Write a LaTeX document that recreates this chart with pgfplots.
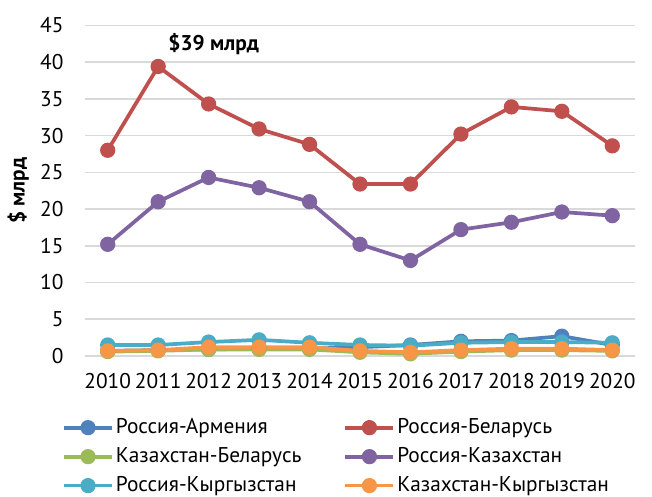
\documentclass[border=0pt]{standalone}
\usepackage{fontspec}
\setmainfont{PT Sans}
\usepackage{pgfplots}
\pgfplotsset{compat=1.18}

\definecolor{cArm}{HTML}{4F81BD}
\definecolor{cBel}{HTML}{C0504D}
\definecolor{cKzBy}{HTML}{9BBB59}
\definecolor{cKz}{HTML}{8064A2}
\definecolor{cKg}{HTML}{4BACC6}
\definecolor{cKzKg}{HTML}{F79646}
\definecolor{gridc}{HTML}{D9D9D9}

\begin{document}
\fontsize{16}{19}\selectfont
\begin{tikzpicture}
\begin{axis}[
    scale only axis,
    width=412.5pt,
    height=248pt,
    xmin=2009.55, xmax=2020.45,
    ymin=0, ymax=45,
    xtick={2010,2011,2012,2013,2014,2015,2016,2017,2018,2019,2020},
    ytick={0,5,10,15,20,25,30,35,40,45},
    /pgf/number format/assume math mode=true,
    /pgf/number format/1000 sep={},
    axis line style={draw=none},
    major tick length=0pt,
    ymajorgrids=true,
    grid style={gridc, line width=1.2pt},
    xticklabel style={inner sep=0pt, yshift=-13pt},
    yticklabel style={inner sep=0pt, xshift=-16pt},
    ylabel={\bfseries\$ млрд},
    every axis y label/.style={at={(axis description cs:0,0.5)}, xshift=-50pt, rotate=90, anchor=center},
    clip=false,
    every axis plot/.append style={line width=2.8pt, mark=*, mark size=4.3pt},
    legend image code/.code={\draw[mark repeat=2, mark phase=2] plot coordinates {(0pt,0pt) (18pt,0pt) (36pt,0pt)};},
    legend style={draw=none, fill=none, at={(axis description cs:-0.042,-0.182)}, anchor=north west,
        legend columns=2, row sep=5pt, inner sep=0pt,
        nodes={inner sep=1.5pt},
        /tikz/every even column/.append style={column sep=30pt}},
    legend cell align=left,
]
\addplot[color=cArm] coordinates {
    (2010,0.7) (2011,0.8) (2012,0.9) (2013,1.0) (2014,1.0) (2015,1.2)
    (2016,1.5) (2017,2.0) (2018,2.1) (2019,2.7) (2020,1.5)
};
\addplot[color=cBel] coordinates {
    (2010,28.0) (2011,39.4) (2012,34.3) (2013,30.9) (2014,28.8) (2015,23.4)
    (2016,23.4) (2017,30.2) (2018,33.9) (2019,33.3) (2020,28.6)
};
\addplot[color=cKzBy] coordinates {
    (2010,0.6) (2011,0.7) (2012,0.9) (2013,0.9) (2014,0.9) (2015,0.5)
    (2016,0.3) (2017,0.6) (2018,0.8) (2019,0.8) (2020,0.7)
};
\addplot[color=cKz] coordinates {
    (2010,15.2) (2011,21.0) (2012,24.3) (2013,22.9) (2014,21.0) (2015,15.2)
    (2016,13.0) (2017,17.2) (2018,18.2) (2019,19.6) (2020,19.1)
};
\addplot[color=cKg] coordinates {
    (2010,1.5) (2011,1.5) (2012,1.9) (2013,2.2) (2014,1.8) (2015,1.5)
    (2016,1.4) (2017,1.8) (2018,1.9) (2019,1.9) (2020,1.8)
};
\addplot[color=cKzKg] coordinates {
    (2010,0.7) (2011,0.8) (2012,1.2) (2013,1.2) (2014,1.2) (2015,0.7)
    (2016,0.5) (2017,0.8) (2018,1.0) (2019,1.0) (2020,0.8)
};
\legend{Россия-Армения, Россия-Беларусь, Казахстан-Беларусь, Россия-Казахстан, Россия-Кыргызстан, Казахстан-Кыргызстан}
\node[font=\bfseries] at (axis cs:2012.1,42.4) {\$39 млрд};
\end{axis}
\path (-63.75pt,-104.25pt) rectangle (425.25pt,267pt);
\end{tikzpicture}
\end{document}
